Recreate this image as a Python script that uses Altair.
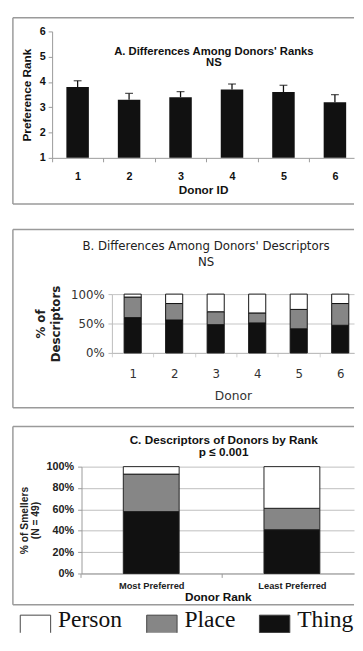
import altair as alt
import pandas as pd

# ---------------- data ----------------
# Panel A: mean preference rank per donor (+ standard error)
donor_ids = ["1", "2", "3", "4", "5", "6"]
rank_mean = [3.8, 3.3, 3.4, 3.7, 3.6, 3.2]
rank_se = [0.25, 0.25, 0.22, 0.22, 0.27, 0.30]

# Panel B: % of descriptors per donor
desc_donors = ["1", "2", "3", "4", "5", "6"]
desc_thing = [60, 56, 48, 51, 41, 47]
desc_place = [35, 28, 22, 17, 33, 37]
desc_person = [5, 16, 30, 32, 26, 16]

# Panel C: % of smellers by donor rank
rank_groups = ["Most Preferred", "Least Preferred"]
rank_thing = [58, 41]
rank_place = [35, 20]
rank_person = [7, 39]

categories = ["Person", "Place", "Thing"]
category_colors = ["#ffffff", "#868686", "#111111"]
stack_order = {"Thing": 0, "Place": 1, "Person": 2}

title_a = ["A.   Differences Among Donors' Ranks", "NS"]
title_b = ["B. Differences Among Donors' Descriptors", "NS"]
title_c = ["C. Descriptors of Donors by Rank", "p \u2264 0.001"]

W = 348
SANS = "Liberation Sans"
VERA = "DejaVu Sans"
SERIF = "Liberation Serif"
GRAY = "#9a9a9a"
one = pd.DataFrame({"k": [0]})


def frame(h):
    """Panel border (left, top, bottom edges; the right edge lies beyond the window)."""
    base = alt.Chart(one).mark_rule(color=GRAY, strokeWidth=1.5)
    left = base.encode(x=alt.value(0), y=alt.value(0), y2=alt.value(h))
    top = base.encode(x=alt.value(0), x2=alt.value(W), y=alt.value(0))
    bottom = base.encode(x=alt.value(0), x2=alt.value(W), y=alt.value(h))
    return [left, top, bottom]


def heading(lines, x, y, font, size, weight, lh, color="#111"):
    return alt.Chart(one).mark_text(align="center", baseline="top", font=font, fontSize=size,
                                    fontWeight=weight, lineHeight=lh, color=color).encode(
        x=alt.value(x), y=alt.value(y), text=alt.value(lines))


# legend swatch: open at the bottom, as the window cuts it in the reference
LEG = alt.Legend(title=None, orient="none", legendX=7, legendY=598, direction="horizontal",
                 symbolType="M-1,0.84L-1,-0.32L1,-0.32L1,0.84", symbolSize=961,
                 symbolStrokeColor="#444", symbolStrokeWidth=1, symbolOpacity=1,
                 labelFont=SERIF, labelFontSize=24, labelColor="#111", labelOffset=7,
                 columnPadding=22, padding=0)
color_enc = alt.Color("category:N", scale=alt.Scale(domain=categories, range=category_colors),
                      legend=LEG)

# ---------------- panel A ----------------
HA = 190
dfA = pd.DataFrame({"donor": donor_ids, "rank": rank_mean,
                    "top": [m + s for m, s in zip(rank_mean, rank_se)]})
xA = alt.X("donor:N", sort=donor_ids,
           scale=alt.Scale(range=[40, W], paddingInner=0.563, paddingOuter=0.215, align=0.645),
           axis=alt.Axis(title="Donor ID", orient="bottom", offset=143 - HA, labelAngle=0,
                         tickOffset=-26.3, labelOffset=26.3, tickSize=4, tickColor=GRAY,
                         domainColor=GRAY, labelFont=SANS, labelFontWeight="bold",
                         labelFontSize=11, labelColor="#111", labelPadding=9, titleFont=SANS,
                         titleFontWeight="bold", titleFontSize=12, titleColor="#111",
                         titlePadding=3))
yscaleA = alt.Scale(domain=[1, 6], range=[143, 14], nice=False, zero=False)
yaxisA = alt.Axis(title="Preference Rank", values=[1, 2, 3, 4, 5, 6], offset=-40, grid=False,
                  tickSize=4, tickColor=GRAY, domainColor=GRAY, labelFont=SANS,
                  labelFontWeight="bold", labelFontSize=11, labelColor="#111", labelPadding=3,
                  titleFont=SANS, titleFontWeight="bold", titleFontSize=12, titleColor="#111",
                  titlePadding=6)
baseA = alt.Chart(dfA)
barsA = baseA.mark_bar(color="#111").encode(
    x=xA, y=alt.Y("rank:Q", scale=yscaleA, axis=yaxisA), y2=alt.datum(1))
errA = baseA.mark_rule(color="#111", strokeWidth=1.3).encode(
    x=xA, y=alt.Y("rank:Q", scale=yscaleA, axis=yaxisA), y2="top:Q")
capA = baseA.mark_tick(color="#111", thickness=1.3, size=8).encode(
    x=xA, y=alt.Y("top:Q", scale=yscaleA, axis=yaxisA))
panelA = alt.layer(barsA, errA, capA, *frame(HA),
                   heading(title_a, 205, 29, SANS, 11.5, "bold", 11.5)).properties(
    width=W, height=HA)

# ---------------- panel B ----------------
HB = 182
rowsB = []
for i, d in enumerate(desc_donors):
    for cat, vals in (("Thing", desc_thing), ("Place", desc_place), ("Person", desc_person)):
        rowsB.append({"donor": d, "category": cat, "pct": vals[i], "order": stack_order[cat]})
dfB = pd.DataFrame(rowsB)
barsB = alt.Chart(dfB).mark_bar(stroke="#111", strokeWidth=1).encode(
    x=alt.X("donor:N", sort=desc_donors,
            scale=alt.Scale(range=[101, W], paddingInner=0.588, paddingOuter=0.21,
                            align=0.7),
            axis=alt.Axis(title="Donor", orient="bottom", offset=126 - HB, labelAngle=0,
                          tickOffset=-21.2, labelOffset=21.2, tickSize=4,
                          tickColor="#d0d0d0", domainColor="#bbbbbb", labelFont=VERA,
                          labelFontSize=12, labelColor="#333", labelPadding=12,
                          titleFont=VERA, titleFontSize=12.5, titleFontWeight="normal",
                          titleColor="#333", titlePadding=11)),
    y=alt.Y("pct:Q", stack="zero",
            scale=alt.Scale(domain=[0, 100], range=[126, 66], nice=False),
            axis=alt.Axis(title=["% of", "Descriptors"], values=[0, 50, 100],
                          labelExpr="datum.value + '%'", offset=-101, grid=True,
                          gridColor="#c4c4c4", tickSize=4, tickColor="#bbbbbb",
                          domainColor="#bbbbbb", labelFont=VERA, labelFontSize=12,
                          labelColor="#333", labelPadding=4, titleFont=VERA,
                          titleFontSize=12, titleFontWeight="bold", titleColor="#222",
                          titleLineHeight=15, titlePadding=8)),
    color=color_enc,
    order=alt.Order("order:Q", sort="ascending"),
)
panelB = alt.layer(barsB, *frame(HB),
                   heading(title_b, 197, 12, VERA, 12, "normal", 16, "#222")).properties(
    width=W, height=HB)

# ---------------- panel C ----------------
HC = 182
rowsC = []
for i, g in enumerate(rank_groups):
    for cat, vals in (("Thing", rank_thing), ("Place", rank_place), ("Person", rank_person)):
        rowsC.append({"group": g, "category": cat, "pct": vals[i], "order": stack_order[cat]})
dfC = pd.DataFrame(rowsC)
barsC = alt.Chart(dfC).mark_bar(stroke="#222", strokeWidth=1).encode(
    x=alt.X("group:N", sort=rank_groups,
            scale=alt.Scale(range=[70, W], paddingInner=0.603, paddingOuter=0.27,
                            align=0.55),
            axis=alt.Axis(title="Donor Rank", orient="bottom", offset=150 - HC, labelAngle=0,
                          tickOffset=-71.7, labelOffset=71.7, tickSize=4, tickColor=GRAY,
                          domainColor=GRAY, labelFont=SANS, labelFontWeight="bold",
                          labelFontSize=9.5, labelColor="#222", labelPadding=3,
                          titleFont=SANS, titleFontWeight="bold", titleFontSize=12,
                          titleColor="#111", titlePadding=2)),
    y=alt.Y("pct:Q", stack="zero",
            scale=alt.Scale(domain=[0, 100], range=[150, 41], nice=False),
            axis=alt.Axis(title=["% of Smellers", "(N = 49)"], values=[0, 20, 40, 60, 80, 100],
                          labelExpr="datum.value + '%'", offset=-70, grid=True,
                          gridColor="#bdbdbd", tickSize=4, tickColor=GRAY, domainColor=GRAY,
                          labelFont=SANS, labelFontWeight="bold", labelFontSize=11,
                          labelColor="#222", labelPadding=4, titleFont=SANS,
                          titleFontSize=10.5, titleFontWeight="bold", titleColor="#222",
                          titleLineHeight=11, titlePadding=6)),
    color=color_enc,
    order=alt.Order("order:Q", sort="ascending"),
)
panelC = alt.layer(barsC, *frame(HC),
                   heading(title_c, 215, 9, SANS, 12, "bold", 12)).properties(
    width=W, height=HC)

chart = alt.vconcat(panelA, alt.vconcat(panelB, panelC, spacing=17), spacing=24).properties(
    padding={"left": 4, "top": 2.5, "right": 0, "bottom": 0}
).configure_view(stroke=None).configure_concat(spacing=17)

chart.save("out.html", embed_options={"renderer": "svg", "actions": False})
